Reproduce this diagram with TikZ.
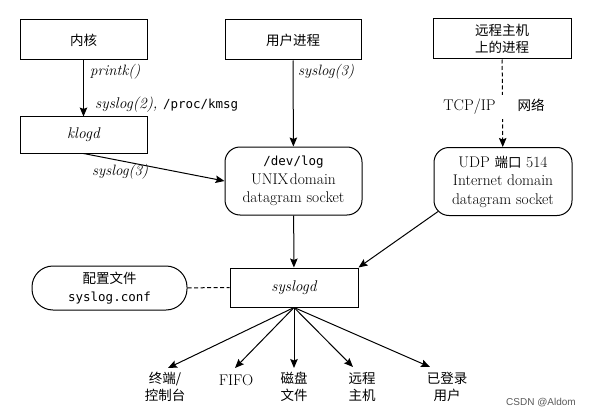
\documentclass[tikz,border=0pt]{standalone}
\usepackage{fontspec}
\newfontfamily\cjk{Noto Sans CJK SC}
\setmonofont{DejaVu Sans Mono}
\newfontfamily\wmfont{Liberation Sans}
\usetikzlibrary{arrows.meta,calc}
\newcommand{\zh}[1]{{\cjk\fontsize{13.5}{17}\selectfont #1}}
\newcommand{\mono}[1]{{\ttfamily\fontsize{12.5}{18.5}\selectfont #1}}
\begin{document}
\begin{tikzpicture}[x=1pt,y=-1pt,
  every node/.style={inner sep=0pt, font=\fontsize{15.5}{18.5}\selectfont},
  box/.style={draw, line width=1pt, minimum width=127pt, minimum height=40pt, align=center},
  rbox/.style={draw, line width=1pt, rounded corners=15pt, minimum width=137pt, minimum height=68pt, align=center},
  arr/.style={line width=1pt, -{Stealth[length=9pt,width=7.5pt,inset=1.5pt]}},
  dashln/.style={line width=1pt, dash pattern=on 4pt off 2.5pt},
  lab/.style={font=\fontsize{15}{18}\selectfont\itshape},
  outn/.style={anchor=north, align=center, font=\cjk\fontsize{13.5}{17}\selectfont}]
\useasboundingbox (0,0) rectangle (591,417);

% boxes
\node[box] (kernel) at (83.5,40) {\zh{内核}};
\node[box, minimum width=136pt] (user) at (293,40) {\zh{用户进程}};
\node[box, minimum width=138pt, font=\cjk\fontsize{13.5}{17}\selectfont] (remote) at (502,39) {远程主机\\上的进程};
\node[box, minimum height=36pt] (klogd) at (83.5,135) {\itshape klogd};
\node[rbox] (devlog) at (293.5,181) {\mono{/dev/log}\\UNIX\hspace{1.5pt}domain\\datagram socket};
\node[rbox, minimum width=138pt] (udp) at (503,181.5) {UDP \zh{端口} 514\\Internet domain\\datagram socket};
\node[box, minimum width=128pt, minimum height=39pt] (syslogd) at (294,287.5) {\itshape syslogd};
\node[draw, line width=1pt, rounded corners=21pt, minimum width=155pt, minimum height=44pt, align=center] (conf) at (109.5,288) {\zh{配置文件}\\{\ttfamily\fontsize{12.5}{17}\selectfont syslog.conf}};

% outputs
\node[outn] (o1) at (165,372) {终端/\\控制台};
\node[outn, font=\fontsize{15.5}{18.5}\selectfont] (o2) at (236,374) {FIFO};
\node[outn] (o3) at (294,372) {磁盘\\文件};
\node[outn] (o4) at (362,372) {远程\\主机};
\node[outn] (o5) at (447,372) {已登录\\用户};

% connectors
\draw[arr] (kernel) -- (klogd);
\draw[arr] (klogd.south) -- (devlog.west);
\draw[arr] (user) -- (devlog);
\draw[arr] (devlog) -- (syslogd);
\draw[arr] ($(udp.south west)+(4.4,-4.4)$) -- (syslogd.north east);
\draw[dashln, -{Stealth[length=9pt,width=7.5pt,inset=1.5pt]}] (remote) -- (udp);
\draw[dashln] (conf) -- (syslogd);

\draw[arr] (syslogd.south) -- ($(o1.north)+(3,-4)$);
\draw[arr] (syslogd.south) -- ($(o2.north)+(-1,-6)$);
\draw[arr] (syslogd.south) -- ($(o3.north)+(0,-4)$);
\draw[arr] (syslogd.south) -- ($(o4.north)+(-9,-5)$);
\draw[arr] (syslogd.south) -- ($(o5.north)+(-17,-5)$);

% labels
\node[lab, anchor=west] (l1) at (90,72) {printk()};
\node[anchor=west] (l2) at (95,105) {\itshape syslog(2),\ \upshape\mono{/proc/kmsg}};
\node[lab, anchor=west] (l3) at (92,172) {syslog(3)};
\node[lab, anchor=west] (l4) at (298,72) {syslog(3)};
\node[fill=white, inner ysep=4pt] (net) at (494,107) {TCP/IP\hspace{22pt}\zh{网络}};

\node[font=\wmfont\fontsize{10}{12}\selectfont, text=gray!70!black] (wm) at (541,403) {CSDN @Aldom};
\end{tikzpicture}
\end{document}
